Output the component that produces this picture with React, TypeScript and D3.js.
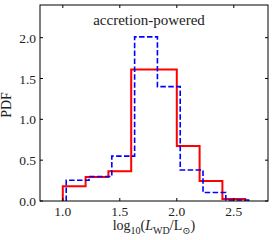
import React from "react";
import * as d3 from "d3";

const redEdges = [1.0, 1.2, 1.4, 1.6, 1.8, 2.0, 2.2, 2.4, 2.6];
const redValues = [0.18, 0.295, 0.365, 1.61, 1.61, 0.675, 0.245, 0.025];
const blueEdges = [1.03, 1.23, 1.43, 1.63, 1.83, 2.03, 2.23, 2.43, 2.63];
const blueValues = [0.255, 0.3, 0.55, 2.01, 1.4, 0.38, 0.105, 0.012];
const xTicks = [1.0, 1.5, 2.0, 2.5];
const yTicks = [0.0, 0.5, 1.0, 1.5, 2.0];
const title = "accretion-powered";
const yLabel = "PDF";

const W = 274, H = 240;
const L = 40, R = 268, T = 5, B = 201;
const FONT = "'Liberation Serif', 'DejaVu Serif', serif";

export default function App() {
  const x = d3.scaleLinear().domain([0.8, 2.8]).range([L, R]);
  const y = d3.scaleLinear().domain([0, 2.4]).range([B, T]);
  const stepPts = (edges: number[], vals: number[]) => {
    const pts: [number, number][] = [[edges[0], 0]];
    vals.forEach((v, i) => {
      pts.push([edges[i], v]);
      pts.push([edges[i + 1], v]);
    });
    pts.push([edges[edges.length - 1], 0]);
    return pts;
  };
  const line = d3.line<[number, number]>().x(d => x(d[0])).y(d => y(d[1]));
  const tl = 3;
  return (
    <svg width={W} height={H} style={{ position: "absolute", left: 0, top: 0, background: "#fff" }}>
      <path d={line(stepPts(redEdges, redValues)) || ""} fill="none" stroke="#ff0000" strokeWidth={2} />
      <path d={line(stepPts(blueEdges, blueValues)) || ""} fill="none" stroke="#0000ff" strokeWidth={1.6} strokeDasharray="5.5,2.4" />
      <rect x={L} y={T} width={R - L} height={B - T} fill="none" stroke="#000" strokeWidth={1} />
      {xTicks.map(t => (
        <g key={"x" + t}>
          <line x1={x(t)} x2={x(t)} y1={B} y2={B - tl} stroke="#000" />
          <line x1={x(t)} x2={x(t)} y1={T} y2={T + tl} stroke="#000" />
          <text x={x(t)} y={216} textAnchor="middle" fontFamily={FONT} fontSize={13.5} fill="#222">{t.toFixed(1)}</text>
        </g>
      ))}
      {yTicks.map(t => (
        <g key={"y" + t}>
          <line x1={L} x2={L + tl} y1={y(t)} y2={y(t)} stroke="#000" />
          <line x1={R} x2={R - tl} y1={y(t)} y2={y(t)} stroke="#000" />
          <text x={36} y={y(t) + 5} textAnchor="end" fontFamily={FONT} fontSize={13.5} fill="#222">{t.toFixed(1)}</text>
        </g>
      ))}
      <text x={149} y={25} textAnchor="middle" fontFamily={FONT} fontSize={15} fill="#222">{title}</text>
      <text transform={`translate(11,${(T + B) / 2 + 2}) rotate(-90)`} textAnchor="middle" fontFamily={FONT} fontSize={14} fill="#222">{yLabel}</text>
      <text x={(L + R) / 2} y={230} textAnchor="middle" fontFamily={FONT} fontSize={14} fill="#222">
        <tspan>log</tspan>
        <tspan fontSize={10} dy={3.5}>10</tspan>
        <tspan dy={-3.5}>(</tspan>
        <tspan fontStyle="italic">L</tspan>
        <tspan fontSize={10} dy={3.5}>WD</tspan>
        <tspan dy={-3.5}>/L</tspan>
        <tspan fontSize={10} dy={3.5}>⊙</tspan>
        <tspan dy={-3.5}>)</tspan>
      </text>
    </svg>
  );
}
